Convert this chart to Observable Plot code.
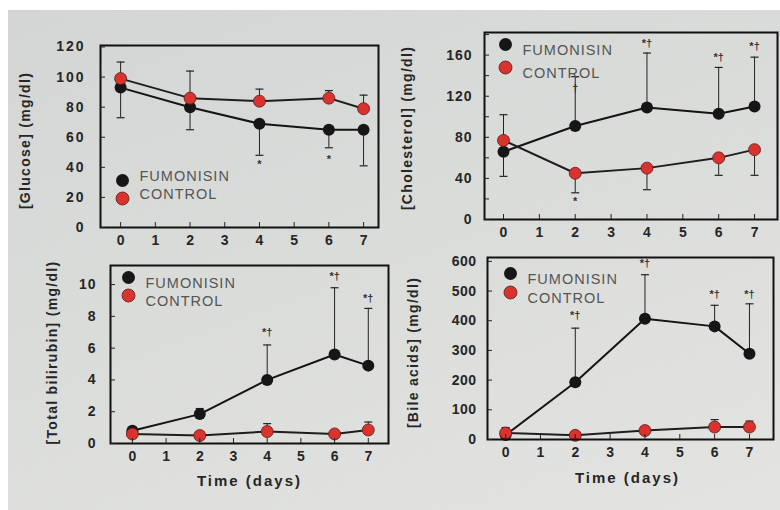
<!DOCTYPE html>
<html><head><meta charset="utf-8">
<script src="https://cdn.jsdelivr.net/npm/d3@7"></script>
<script src="https://cdn.jsdelivr.net/npm/@observablehq/plot@0.6"></script>
<style>
html,body{margin:0;padding:0;background:#fff;}
#wrap{position:relative;width:780px;height:510px;overflow:hidden;background:#fff;}
#paper{position:absolute;left:8px;top:10px;width:772px;height:500px;background:linear-gradient(160deg,#d3d6d4 0%,#dadcda 45%,#e3e4e2 100%);}
.panel{position:absolute;overflow:visible;}
</style></head><body>
<div id="wrap"><div id="paper"></div></div>
<script>
const days = [0, 2, 4, 6, 7];
const xTicks = [0, 1, 2, 3, 4, 5, 6, 7];
const seriesNames = ["FUMONISIN", "CONTROL"];

// Glucose
const glucoseFum = [93, 80, 69, 65, 65];
const glucoseCtl = [99, 86, 84, 86, 79];
const glucoseFumErr = [73, 65, 48, 53, 41];
const glucoseCtlErr = [110, 104, 92, 91, 88];
const glucoseTicks = [0, 20, 40, 60, 80, 100, 120];
const glucoseNoteDays = [4, 6];
const glucoseNoteY = [42, 45];
const glucoseNoteText = ["*", "*"];

// Cholesterol
const cholFum = [66, 91, 109, 103, 110];
const cholCtl = [77, 45, 50, 60, 68];
const cholFumErr = [102, 139, 162, 148, 158];
const cholCtlErr = [42, 26, 29, 43, 43];
const cholTicks = [0, 40, 80, 120, 160];
const cholMinor = [0, 20, 40, 60, 80, 100, 120, 140, 160, 180];
const cholNoteDays = [2, 2, 4, 6, 7];
const cholNoteY = [18, 128, 171, 158, 168];
const cholNoteText = ["*", "†", "*†", "*†", "*†"];

// Total bilirubin
const biliFum = [0.8, 1.85, 4.0, 5.6, 4.9];
const biliCtl = [0.6, 0.5, 0.75, 0.6, 0.85];
const biliFumErr = [1.0, 2.2, 6.2, 9.8, 8.5];
const biliCtlErr = [0.9, 0.6, 1.25, 0.8, 1.35];
const biliTicks = [0, 2, 4, 6, 8, 10];
const biliNoteDays = [4, 6, 7];
const biliNoteY = [7.0, 10.5, 9.1];
const biliNoteText = ["*†", "*†", "*†"];

// Bile acids
const bileFum = [15, 193, 407, 381, 289];
const bileCtl = [22, 14, 30, 42, 42];
const bileFumErr = [40, 375, 555, 452, 457];
const bileCtlErr = [35, 20, 40, 67, 62];
const bileTicks = [0, 100, 200, 300, 400, 500, 600];
const bileNoteDays = [2, 4, 6, 7];
const bileNoteY = [418, 592, 488, 488];
const bileNoteText = ["*†", "*†", "*†", "*†"];

const capSymbol = {draw(ctx, size) { const w = Math.sqrt(size / Math.PI); ctx.moveTo(-w, 0); ctx.lineTo(w, 0); }};
const FONT = "'Liberation Sans', Arial, sans-serif";
const RED = "#d8332f";

function rows(vals, errs) { return days.map((d, i) => ({day: d, value: vals[i], err: errs[i]})); }
function notes(ds, ys, ts) { return ds.map((d, i) => ({day: d, y: ys[i], t: ts[i]})); }

function panel(c) {
  const fum = rows(c.fum, c.fumErr);
  const ctl = rows(c.ctl, c.ctlErr);
  const all = fum.concat(ctl);
  const marks = [
    Plot.ruleX(all, {x: "day", y1: "value", y2: "err", stroke: "#222", strokeWidth: 1}),
    Plot.dot(all, {x: "day", y: "err", symbol: capSymbol, r: 4, stroke: "#222", strokeWidth: 1.2}),
    Plot.line(fum, {x: "day", y: "value", stroke: "#141414", strokeWidth: 2}),
    Plot.line(ctl, {x: "day", y: "value", stroke: "#1e1e1e", strokeWidth: 2}),
    Plot.dot(fum, {x: "day", y: "value", r: 6, fill: "#161616"}),
    Plot.dot(ctl, {x: "day", y: "value", r: 6, fill: RED, stroke: "#5e1b19", strokeWidth: 0.8}),
    Plot.frame({stroke: "#111", strokeWidth: 2}),
    Plot.axisY({ticks: c.yTicks, label: null, tickSize: 0, tickPadding: c.yPad, fontSize: 14, fontWeight: "bold", fill: "#262626"}),
    Plot.axisY({ticks: c.yMinor || c.yTicks, label: null, tickSize: 5, dx: 5, tickFormat: () => "", stroke: "#222"}),
    Plot.axisX({ticks: xTicks, label: null, tickSize: 0, tickPadding: 8, fontSize: 14, fontWeight: "bold", fill: "#262626"}),
    Plot.axisX({ticks: xTicks, label: null, tickSize: 5, dy: -5, tickFormat: () => "", stroke: "#222"}),
    Plot.text(c.notes, {x: "day", y: "y", text: "t", fontSize: 11, fontWeight: "bold", fill: "#333"}),
    Plot.dot([seriesNames[0]], {frameAnchor: c.legAnchor, dx: c.legDx, dy: c.legDy[0], r: 6.5, fill: "#161616"}),
    Plot.dot([seriesNames[1]], {frameAnchor: c.legAnchor, dx: c.legDx, dy: c.legDy[1], r: 6.5, fill: RED, stroke: "#5e1b19", strokeWidth: 0.8}),
    Plot.text([seriesNames[0]], {frameAnchor: c.legAnchor, dx: c.legDx + 17, dy: c.legDy[0], text: d => d, textAnchor: "start", fontSize: 14.5, fill: "#555"}),
    Plot.text([seriesNames[1]], {frameAnchor: c.legAnchor, dx: c.legDx + 17, dy: c.legDy[1], text: d => d, textAnchor: "start", fontSize: 14.5, fill: "#555"}),
    Plot.text([c.yTitle], {frameAnchor: "left", dx: c.yTitleDx, dy: c.yTitleDy, rotate: -90, textAnchor: "middle", text: d => d, fontSize: 14, fontWeight: "bold", fill: "#262626"})
  ];
  if (c.xTitle) marks.push(Plot.text([c.xTitle], {frameAnchor: "bottom", textAnchor: "middle", dx: c.xTitleDx || 0, dy: c.xTitleDy, text: d => d, fontSize: 15, fontWeight: "bold", fill: "#262626"}));
  const p = Plot.plot({
    width: 390, height: 255,
    marginLeft: c.mL, marginRight: c.mR, marginTop: c.mT, marginBottom: c.mB,
    x: {domain: c.xDomain, axis: null},
    y: {domain: c.yDomain, axis: null},
    style: {background: "transparent", fontFamily: FONT, color: "#1a1a1a", overflow: "visible"},
    marks
  });
  // letter spacing tweaks
  d3.select(p).selectAll("text").each(function() {
    const t = this.textContent;
    const g = this.closest("g");
    const lab = g ? g.getAttribute("aria-label") : "";
    if (lab === "y-axis tick label") this.style.letterSpacing = c.lsp + "px";
    else if (t === c.yTitle) this.style.letterSpacing = "1.3px";
    else if (t === c.xTitle) this.style.letterSpacing = "2px";
    else if (seriesNames.includes(t)) this.style.letterSpacing = "1px";
  });
  p.classList.add("panel");
  p.style.left = c.left + "px";
  p.style.top = c.top + "px";
  document.getElementById("wrap").appendChild(p);
}

panel({left: 0, top: 0, mL: 100, mR: 12, mT: 45, mB: 28, xDomain: [-0.58, 7.43], yDomain: [0, 121],
  fum: glucoseFum, ctl: glucoseCtl, fumErr: glucoseFumErr, ctlErr: glucoseCtlErr,
  yTicks: glucoseTicks, yPad: 15, lsp: 2, notes: notes(glucoseNoteDays, glucoseNoteY, glucoseNoteText),
  legAnchor: "bottom-left", legDx: 22, legDy: [-47, -29],
  yTitle: "[Glucose] (mg/dl)", yTitleDx: -75, yTitleDy: 4});

panel({left: 390, top: 0, mL: 94, mR: 3, mT: 32, mB: 36, xDomain: [-0.53, 7.64], yDomain: [0, 182],
  fum: cholFum, ctl: cholCtl, fumErr: cholFumErr, ctlErr: cholCtlErr,
  yTicks: cholTicks, yMinor: cholMinor, yPad: 12, lsp: 1, notes: notes(cholNoteDays, cholNoteY, cholNoteText),
  legAnchor: "top-left", legDx: 21, legDy: [12, 35],
  yTitle: "[Cholesterol] (mg/dl)", yTitleDx: -77, yTitleDy: 2});

panel({left: 0, top: 255, mL: 110, mR: 2, mT: 10, mB: 67, xDomain: [-0.65, 7.6], yDomain: [0, 11.2],
  fum: biliFum, ctl: biliCtl, fumErr: biliFumErr, ctlErr: biliCtlErr,
  yTicks: biliTicks, yPad: 14, lsp: 1, notes: notes(biliNoteDays, biliNoteY, biliNoteText),
  legAnchor: "top-left", legDx: 18, legDy: [12, 30],
  yTitle: "[Total bilirubin] (mg/dl)", yTitleDx: -58, yTitleDy: -2,
  xTitle: "Time (days)", xTitleDy: 42});

panel({left: 390, top: 255, mL: 97, mR: 7, mT: 2, mB: 71, xDomain: [-0.52, 7.69], yDomain: [0, 613],
  fum: bileFum, ctl: bileCtl, fumErr: bileFumErr, ctlErr: bileCtlErr,
  yTicks: bileTicks, yPad: 11, lsp: 0.5, notes: notes(bileNoteDays, bileNoteY, bileNoteText),
  legAnchor: "top-left", legDx: 23, legDy: [16, 35],
  yTitle: "[Bile acids] (mg/dl)", yTitleDx: -74, yTitleDy: 4,
  xTitle: "Time (days)", xTitleDx: -3, xTitleDy: 43});
</script>
</body></html>
